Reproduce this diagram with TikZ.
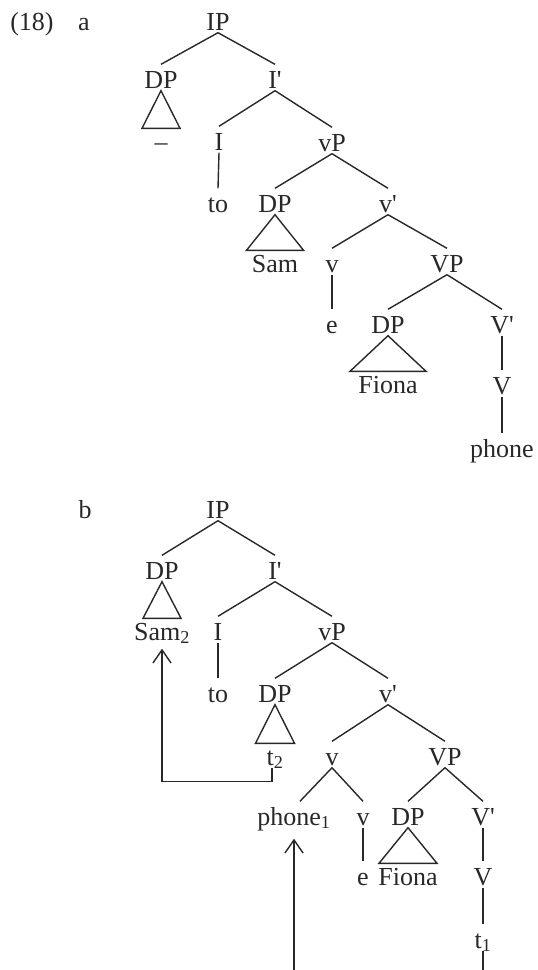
\documentclass[tikz,border=0pt]{standalone}
\usepackage{fontspec}
\setmainfont{Liberation Serif}
\usepackage{tikz}
\usetikzlibrary{arrows.meta}
\definecolor{ink}{RGB}{40,40,40}

\begin{document}
\begin{tikzpicture}[x=1pt, y=-1pt, line width=1.4pt, color=ink, >={Straight Barb[length=13pt,width=18pt]},
		cat/.style={anchor=base, inner sep=0pt, text height=23pt, text depth=2pt, font=\fontsize{26}{30}\selectfont},
		leaf/.style={cat, text height=21pt}]
	\useasboundingbox (0,0) rectangle (538,970);
	% tree a
	\node[cat] (exnum) at (32,30) {(18)};
	\node[cat] (laba) at (84,30) {a};
	\node[cat] (ipa) at (218,30) {IP};
	\node[cat] (dpa) at (161,88) {DP};
	\node[cat] (ibara) at (275,88) {I\textquotesingle};
	\node[leaf] (dasha) at (161,150) {\textendash};
	\node[cat] (ia) at (219,150) {I};
	\node[cat] (vpa) at (332,151) {vP};
	\node[cat] (toa) at (218,212) {to};
	\node[cat] (dpsa) at (275,212) {DP};
	\node[cat] (vbara) at (388,212) {v\textquotesingle};
	\node[leaf] (sama) at (275,272) {Sam};
	\node[cat] (va) at (332,272) {v};
	\node[cat] (bigvpa) at (447,272) {VP};
	\node[cat] (ea) at (332,333) {e};
	\node[cat] (dpoa) at (388,333) {DP};
	\node[cat] (bigvbara) at (502,333) {V\textquotesingle};
	\node[leaf] (fionaa) at (388,393) {Fiona};
	\node[cat] (bigva) at (502,394) {V};
	\node[cat] (phonea) at (502,457) {phone};
	\draw (ipa.south) -- (dpa.north);
	\draw (ipa.south) -- (ibara.north);
	\draw (ibara.south) -- (ia.north);
	\draw (ibara.south) -- (vpa.north);
	\draw (ia.south) -- (toa.north);
	\draw (vpa.south) -- (dpsa.north);
	\draw (vpa.south) -- (vbara.north);
	\draw (vbara.south) -- (va.north);
	\draw (vbara.south) -- (bigvpa.north);
	\draw (va.south) -- (ea.north);
	\draw (bigvpa.south) -- (dpoa.north);
	\draw (bigvpa.south) -- (bigvbara.north);
	\draw (bigvbara.south) -- (bigva.north);
	\draw (bigva.south) -- (phonea.north);
	\draw (dpa.south) -- ([xshift=-19pt]dasha.north) -- ([xshift=19pt]dasha.north) -- cycle;
	\draw (dpsa.south) -- ([xshift=-28.5pt]sama.north) -- ([xshift=28.5pt]sama.north) -- cycle;
	\draw (dpoa.south) -- ([xshift=-38pt]fionaa.north) -- ([xshift=38pt]fionaa.north) -- cycle;
	% tree b
	\node[cat] (labb) at (85,518) {b};
	\node[cat] (ipb) at (218,518) {IP};
	\node[cat] (dpb) at (162,579) {DP};
	\node[cat] (ibarb) at (275,579) {I\textquotesingle};
	\node[leaf] (samb) at (162,640) {Sam\textsubscript{2}};
	\node[cat] (ib) at (218,640) {I};
	\node[cat] (vpb) at (332,640) {vP};
	\node[cat] (tob) at (218,702) {to};
	\node[cat] (dpsb) at (275,702) {DP};
	\node[cat] (vbarb) at (388,702) {v\textquotesingle};
	\node[leaf] (tsb) at (275,765) {t\textsubscript{2}};
	\node[cat] (vb) at (332,765) {v};
	\node[cat] (bigvpb) at (445,765) {VP};
	\node[cat] (phoneb) at (294,825) {phone\textsubscript{1}};
	\node[cat] (vlowb) at (363,825) {v};
	\node[cat] (dpob) at (408,825) {DP};
	\node[cat] (bigvbarb) at (483,825) {V\textquotesingle};
	\node[cat] (eb) at (363,885) {e};
	\node[leaf] (fionab) at (408,885) {Fiona};
	\node[cat] (bigvb) at (483,885) {V};
	\node[cat] (tlb) at (483,948) {t\textsubscript{1}};
	\draw (ipb.south) -- (dpb.north);
	\draw (ipb.south) -- (ibarb.north);
	\draw (ibarb.south) -- (ib.north);
	\draw (ibarb.south) -- (vpb.north);
	\draw (ib.south) -- (tob.north);
	\draw (vpb.south) -- (dpsb.north);
	\draw (vpb.south) -- (vbarb.north);
	\draw (vbarb.south) -- (vb.north);
	\draw (vbarb.south) -- (bigvpb.north);
	\draw (vb.south) -- ([xshift=6pt]phoneb.north);
	\draw (vb.south) -- (vlowb.north);
	\draw (vlowb.south) -- (eb.north);
	\draw (bigvpb.south) -- (dpob.north);
	\draw (bigvpb.south) -- (bigvbarb.north);
	\draw (bigvbarb.south) -- (bigvb.north);
	\draw (bigvb.south) -- (tlb.north);
	\draw (dpb.south) -- ([xshift=-19pt]samb.north) -- ([xshift=19pt]samb.north) -- cycle;
	\draw (dpsb.south) -- ([xshift=-19.5pt]tsb.north) -- ([xshift=19.5pt]tsb.north) -- cycle;
	\draw (dpob.south) -- ([xshift=-29pt]fionab.north) -- ([xshift=29pt]fionab.north) -- cycle;
	% movement
	\draw[->] ([xshift=-3pt]tsb.south) -- ++(0,14) -| ([yshift=-6pt]samb.south);
	\draw[->] (tlb.south) -- ++(0,40) -| ([yshift=-11pt]phoneb.south);
\end{tikzpicture}
\end{document}
